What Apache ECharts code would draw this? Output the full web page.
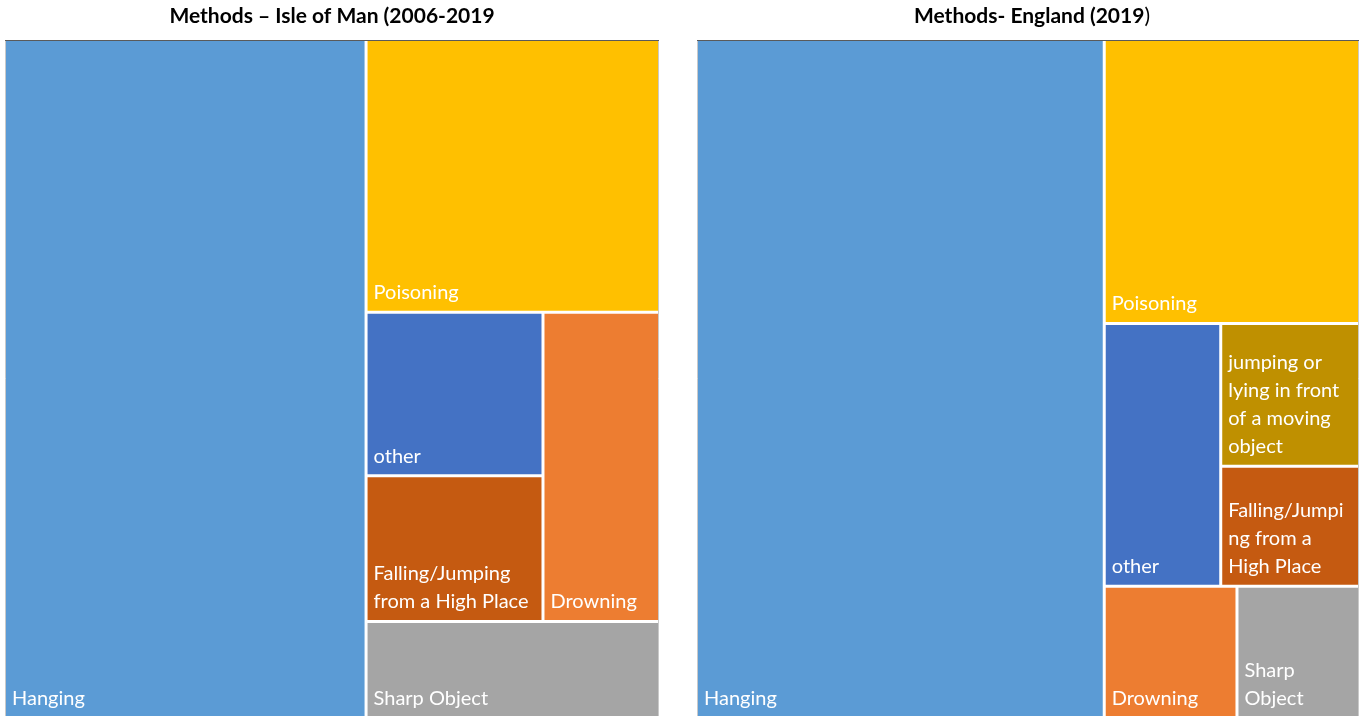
<!DOCTYPE html>
<html>
<head>
<meta charset="utf-8">
<title>Methods treemaps</title>
<script src="https://cdn.jsdelivr.net/npm/echarts@6/dist/echarts.min.js"></script>
<style>
  html, body { margin: 0; padding: 0; background: #fff; }
  #chart { width: 1365px; height: 716px; }
</style>
</head>
<body>
<div id="chart"></div>
<script>
'use strict';

// Isle of Man 2006-2019, share of suicides by method (%)
var iomNames = ['Hanging', 'Poisoning', 'other', 'Falling/Jumping from a High Place', 'Drowning', 'Sharp Object'];
var iomValues = [55.2, 18.0, 6.5, 5.8, 8.1, 6.4];
var iomLabels = ['Hanging', 'Poisoning', 'other', 'Falling/Jumping\nfrom a High Place', 'Drowning', 'Sharp Object'];

// England 2019
var engNames = ['Hanging', 'Poisoning', 'other', 'jumping or lying in front of a moving object',
    'Falling/Jumping from a High Place', 'Drowning', 'Sharp Object'];
var engValues = [61.5, 16.1, 6.8, 4.4, 3.7, 3.9, 3.6];
var engLabels = ['Hanging', 'Poisoning', 'other', 'jumping or\nlying in front\nof a moving\nobject',
    'Falling/Jumpi\nng from a\nHigh Place', 'Drowning', 'Sharp\nObject'];

var colorOf = {
    'Hanging': '#5B9BD5',
    'Poisoning': '#FFC000',
    'other': '#4472C4',
    'Falling/Jumping from a High Place': '#C55A11',
    'Drowning': '#ED7D31',
    'Sharp Object': '#A5A5A5',
    'jumping or lying in front of a moving object': '#BF9000'
};

function leaf(names, values, labels, i) {
    return {
        name: names[i],
        value: values[i],
        itemStyle: { color: colorOf[names[i]] },
        label: { formatter: labels[i] }
    };
}

// groups only steer how the squarify layout splits the box (Excel-like arrangement)
function group(children) {
    return { name: '', children: children };
}

var iomData = (function () {
    var l = function (i) { return leaf(iomNames, iomValues, iomLabels, i); };
    return [
        l(0),
        group([
            l(1),
            group([group([l(2), l(3)]), l(4)]),
            l(5)
        ])
    ];
})();

var engData = (function () {
    var l = function (i) { return leaf(engNames, engValues, engLabels, i); };
    return [
        l(0),
        group([
            l(1),
            group([l(2), group([l(3), l(4)])]),
            group([l(5), l(6)])
        ])
    ];
})();

function treemap(data, box) {
    return {
        type: 'treemap',
        left: box[0],
        top: box[1],
        width: box[2],
        height: box[3],
        sort: false,
        roam: false,
        nodeClick: false,
        breadcrumb: { show: false },
        animation: false,
        itemStyle: {
            gapWidth: 3,
            borderWidth: 0,
            borderColor: '#fff'
        },
        label: {
            show: true,
            position: 'insideBottomLeft',
            color: '#fff',
            fontFamily: 'Lato',
            fontSize: 20,
            lineHeight: 28,
            padding: [0, 0, 4, 6],
            overflow: 'none'
        },
        upperLabel: { show: false },
        emphasis: { disabled: true },
        data: data
    };
}

var chartId = document.getElementById('chart');
var myChart = echarts.init(chartId, null, { renderer: 'canvas' });

var options = {
    backgroundColor: '#fff',
    title: [
        {
            text: 'Methods \u2013 Isle of Man (2006-2019',
            left: 332,
            top: 6,
            padding: 0,
            textAlign: 'center',
            textStyle: { fontFamily: 'Lato', fontWeight: 'bold', fontSize: 21, color: '#000' }
        },
        {
            text: '{b|Methods- England (2019}{n|)}',
            left: 1032,
            top: 6,
            padding: 0,
            textAlign: 'center',
            textStyle: {
                rich: {
                    b: { fontFamily: 'Lato', fontWeight: 'bold', fontSize: 21, color: '#000' },
                    n: { fontFamily: 'Lato', fontWeight: 'normal', fontSize: 21, color: '#000' }
                }
            }
        }
    ],
    graphic: [
        { type: 'rect', z: 100, shape: { x: 5.5, y: 40.5, width: 653, height: 700 },
          style: { fill: 'none', stroke: '#c9c9c9', lineWidth: 1 } },
        { type: 'line', z: 101, shape: { x1: 5, y1: 40.5, x2: 659, y2: 40.5 },
          style: { stroke: '#5a5a5a', lineWidth: 1 } },
        { type: 'rect', z: 100, shape: { x: 697.5, y: 40.5, width: 661, height: 700 },
          style: { fill: 'none', stroke: '#c9c9c9', lineWidth: 1 } },
        { type: 'line', z: 101, shape: { x1: 697, y1: 40.5, x2: 1359, y2: 40.5 },
          style: { stroke: '#5a5a5a', lineWidth: 1 } }
    ],
    series: [
        treemap(iomData, [6, 41, 652, 676]),
        treemap(engData, [698, 41, 660, 676])
    ]
};

myChart.setOption(options);
</script>
</body>
</html>
